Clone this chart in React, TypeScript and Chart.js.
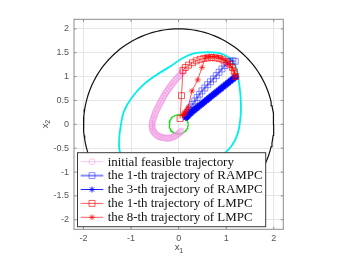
import React, { useEffect, useRef } from "react";
import { Chart, registerables } from "chart.js";

Chart.register(...registerables);

// ---------- data ----------
const AXIS_MIN = -2.2;
const AXIS_MAX = 2.2;
const X_TICKS = [-2, -1, 0, 1, 2];
const X_TICK_LABELS = ["-2", "-1", "0", "1", "2"];
const Y_TICKS = [-2, -1.5, -1, -0.5, 0, 0.5, 1, 1.5, 2];
const Y_TICK_LABELS = ["-2", "-1.5", "-1", "-0.5", "0", "0.5", "1", "1.5", "2"];

const CONSTRAINT_RADIUS = 2;
const TERMINAL_RADIUS = 0.2;
const CIRCLE_SEGMENTS = 160;

const INVARIANT_X = [0.62, 0.86, 1.07, 1.2, 1.26, 1.3, 1.31, 1.29, 1.24, 1.13, 0.98, 0.75, 0.45, 0.1, -0.3, -0.7, -1.05, -1.23, -1.25, -1.22, -1.15, -0.99, -0.74, -0.46, -0.18, 0.09, 0.34, 0.62];
const INVARIANT_Y = [1.51, 1.49, 1.39, 1.21, 0.93, 0.6, 0.3, 0.05, -0.2, -0.43, -0.6, -0.85, -1.05, -1.15, -1.15, -1.05, -0.85, -0.6, -0.32, -0.05, 0.27, 0.55, 0.83, 1.04, 1.21, 1.39, 1.49, 1.51];

const INIT_X = [0.1, 0.08, 0.06, 0.04, 0.02, 0.0, -0.02, -0.04, -0.06, -0.08, -0.1, -0.12, -0.14, -0.16, -0.18, -0.2, -0.21, -0.23, -0.25, -0.27, -0.28, -0.3, -0.31, -0.33, -0.34, -0.36, -0.37, -0.39, -0.4, -0.42, -0.43, -0.45, -0.46, -0.48, -0.49, -0.5, -0.51, -0.52, -0.53, -0.54, -0.55, -0.555, -0.56, -0.56, -0.56, -0.555, -0.55, -0.54, -0.53, -0.515, -0.5, -0.48, -0.46, -0.44, -0.42, -0.4, -0.38, -0.355, -0.33, -0.305, -0.28, -0.255, -0.23, -0.205, -0.18, -0.155, -0.13, -0.11, -0.09, -0.07, -0.05, -0.03, -0.01, 0.01, 0.03, 0.045, 0.06];
const INIT_Y = [1.12, 1.1, 1.07, 1.05, 1.02, 1.0, 0.98, 0.96, 0.94, 0.91, 0.89, 0.86, 0.84, 0.81, 0.79, 0.76, 0.74, 0.71, 0.69, 0.66, 0.64, 0.61, 0.59, 0.56, 0.53, 0.5, 0.48, 0.45, 0.42, 0.39, 0.36, 0.33, 0.3, 0.27, 0.24, 0.21, 0.18, 0.15, 0.12, 0.09, 0.06, 0.03, 0.0, -0.03, -0.05, -0.08, -0.1, -0.13, -0.15, -0.17, -0.19, -0.21, -0.23, -0.24, -0.25, -0.26, -0.27, -0.275, -0.28, -0.285, -0.29, -0.29, -0.29, -0.29, -0.29, -0.28, -0.27, -0.26, -0.25, -0.24, -0.23, -0.215, -0.2, -0.185, -0.17, -0.155, -0.14];

const RAMPC1_X = [1.19, 1.14, 1.08, 1.03, 0.97, 0.91, 0.85, 0.79, 0.73, 0.67, 0.61, 0.55, 0.49, 0.44, 0.39, 0.34, 0.3, 0.26, 0.22, 0.19, 0.17, 0.15];
const RAMPC1_Y = [1.32, 1.33, 1.32, 1.29, 1.23, 1.16, 1.09, 1.02, 0.95, 0.89, 0.83, 0.76, 0.7, 0.63, 0.56, 0.49, 0.42, 0.36, 0.3, 0.25, 0.21, 0.18];

const RAMPC3_X = [1.2, 1.18, 1.15, 1.13, 1.1, 1.08, 1.05, 1.03, 1.0, 0.98, 0.95, 0.93, 0.9, 0.88, 0.85, 0.83, 0.8, 0.78, 0.75, 0.73, 0.7, 0.68, 0.65, 0.63, 0.6, 0.58, 0.55, 0.53, 0.5, 0.48, 0.45, 0.43, 0.4, 0.38, 0.36, 0.34, 0.32, 0.3, 0.28, 0.26, 0.24, 0.22, 0.2, 0.19, 0.18, 0.17, 0.16, 0.15];
const RAMPC3_Y = [1.0, 0.98, 0.96, 0.94, 0.92, 0.9, 0.88, 0.86, 0.84, 0.82, 0.8, 0.78, 0.76, 0.74, 0.72, 0.7, 0.68, 0.66, 0.64, 0.62, 0.6, 0.58, 0.56, 0.54, 0.52, 0.5, 0.48, 0.46, 0.44, 0.42, 0.4, 0.38, 0.36, 0.34, 0.33, 0.31, 0.29, 0.28, 0.26, 0.24, 0.23, 0.21, 0.19, 0.18, 0.17, 0.16, 0.15, 0.14];

const LMPC1_X = [1.2, 1.17, 1.13, 1.07, 1.0, 0.93, 0.85, 0.77, 0.69, 0.61, 0.53, 0.45, 0.37, 0.29, 0.21, 0.14, 0.09, 0.06, 0.03];
const LMPC1_Y = [1.0, 1.1, 1.19, 1.26, 1.31, 1.35, 1.38, 1.39, 1.4, 1.39, 1.38, 1.36, 1.33, 1.29, 1.24, 1.19, 1.13, 0.6, 0.12];

const LMPC8_X = [1.2, 1.17, 1.12, 1.06, 0.99, 0.91, 0.83, 0.74, 0.65, 0.57, 0.49, 0.4, 0.28, 0.2, 0.17, 0.14, 0.12, 0.11, 0.1];
const LMPC8_Y = [1.0, 1.1, 1.19, 1.27, 1.33, 1.38, 1.41, 1.42, 1.42, 1.41, 1.19, 0.93, 0.7, 0.36, 0.3, 0.26, 0.23, 0.21, 0.19];

const LEGEND_LABELS = [
  "initial feasible trajectory",
  "the 1-th trajectory of RAMPC",
  "the 3-th trajectory of RAMPC",
  "the 1-th trajectory of LMPC",
  "the 8-th trajectory of LMPC",
];

// ---------- styles ----------
const PINK = "rgba(240,150,225,0.55)";
const BLUE_LIGHT = "rgba(0,0,255,0.45)";
const BLUE = "rgba(0,0,255,0.85)";
const RED = "rgba(255,0,0,0.65)";
const CYAN = "rgb(0,238,238)";
const GREEN = "rgb(20,220,20)";
const SERIF = '"Liberation Serif", "Times New Roman", Times, serif';
const SANS = '"Liberation Sans", Arial, Helvetica, sans-serif';

const zip = (xs: number[], ys: number[]) => xs.map((x, i) => ({ x, y: ys[i] }));
const circle = (r: number) => {
  const pts: { x: number; y: number }[] = [];
  for (let i = 0; i <= CIRCLE_SEGMENTS; i++) {
    const a = (i / CIRCLE_SEGMENTS) * Math.PI * 2;
    pts.push({ x: r * Math.cos(a), y: r * Math.sin(a) });
  }
  return pts;
};

const LEGEND_STYLES = [
  { color: PINK, lw: 1, marker: "circle", r: 3 },
  { color: BLUE_LIGHT, lw: 2, marker: "rect", r: 4.2 },
  { color: BLUE, lw: 1, marker: "star", r: 3 },
  { color: RED, lw: 1, marker: "rect", r: 4.2 },
  { color: RED, lw: 1, marker: "star", r: 3 },
];

function drawMarker(ctx: CanvasRenderingContext2D, kind: string, x: number, y: number, r: number) {
  ctx.beginPath();
  if (kind === "circle") {
    ctx.arc(x, y, r, 0, Math.PI * 2);
  } else if (kind === "rect") {
    const s = Math.SQRT1_2 * r;
    ctx.rect(x - s, y - s, 2 * s, 2 * s);
  } else {
    ctx.moveTo(x - r, y); ctx.lineTo(x + r, y);
    ctx.moveTo(x, y - r); ctx.lineTo(x, y + r);
    const d = r * Math.SQRT1_2;
    ctx.moveTo(x - d, y - d); ctx.lineTo(x + d, y + d);
    ctx.moveTo(x - d, y + d); ctx.lineTo(x + d, y - d);
  }
  ctx.stroke();
}

const framePlugin = {
  id: "frame",
  afterDatasetsDraw(chart: any) {
    const { ctx, chartArea: a, scales } = chart;
    ctx.save();
    ctx.strokeStyle = "#8c8c8c";
    ctx.lineWidth = 1;
    ctx.strokeRect(a.left, a.top, a.right - a.left, a.bottom - a.top);
    ctx.beginPath();
    X_TICKS.forEach((v) => {
      const px = scales.x.getPixelForValue(v);
      ctx.moveTo(px, a.bottom); ctx.lineTo(px, a.bottom - 2.5);
      ctx.moveTo(px, a.top); ctx.lineTo(px, a.top + 2.5);
    });
    Y_TICKS.forEach((v) => {
      const py = scales.y.getPixelForValue(v);
      ctx.moveTo(a.left, py); ctx.lineTo(a.left + 2.5, py);
      ctx.moveTo(a.right, py); ctx.lineTo(a.right - 2.5, py);
    });
    ctx.stroke();

    ctx.fillStyle = "#444";
    ctx.textAlign = "center";
    ctx.textBaseline = "middle";
    const cx = (a.left + a.right) / 2;
    ctx.font = "9.5px " + SANS;
    ctx.fillText("x", cx - 1.5, 247.5);
    ctx.font = "7px " + SANS;
    ctx.fillText("1", cx + 2.5, 251);
    ctx.save();
    ctx.translate(46, (a.top + a.bottom) / 2);
    ctx.rotate(-Math.PI / 2);
    ctx.font = "9.5px " + SANS;
    ctx.fillText("x", -1.5, -1);
    ctx.font = "7px " + SANS;
    ctx.fillText("2", 2.5, 2.5);
    ctx.restore();
    ctx.restore();
  },
};

const LEGEND_TEXT_WIDTH = 155; // width of the longest legend entry in the reference

const legendPlugin = {
  id: "customLegend",
  afterDraw(chart: any) {
    const ctx: CanvasRenderingContext2D = chart.ctx;
    const left = 77.5, top = 152.7, right = 265.7, bottom = 226.7;
    ctx.save();
    ctx.fillStyle = "#fff";
    ctx.fillRect(left, top, right - left, bottom - top);
    ctx.strokeStyle = "#3a3a3a";
    ctx.lineWidth = 1;
    ctx.strokeRect(left, top, right - left, bottom - top);
    const rowH = 13.9;
    const y0 = 161.7;
    ctx.font = "12px " + SERIF;
    let maxW = 0;
    LEGEND_LABELS.forEach((l) => { maxW = Math.max(maxW, ctx.measureText(l).width); });
    const size = Math.min(13.5, (12 * LEGEND_TEXT_WIDTH) / (maxW || 1));
    ctx.font = size.toFixed(2) + "px " + SERIF;
    ctx.textAlign = "left";
    ctx.textBaseline = "middle";
    LEGEND_LABELS.forEach((label, i) => {
      const y = y0 + i * rowH;
      const st = LEGEND_STYLES[i];
      ctx.strokeStyle = st.color;
      ctx.lineWidth = st.lw;
      ctx.beginPath();
      ctx.moveTo(80.7, y); ctx.lineTo(103.3, y);
      ctx.stroke();
      ctx.lineWidth = 1;
      drawMarker(ctx, st.marker, 92, y, st.r);
      ctx.fillStyle = "#111";
      ctx.fillText(label, 107.7, y + 0.5);
    });
    ctx.restore();
  },
};

export default function App() {
  const ref = useRef<HTMLCanvasElement | null>(null);

  useEffect(() => {
    if (!ref.current) return;
    const common = { showLine: true, tension: 0, pointBackgroundColor: "rgba(0,0,0,0)", backgroundColor: "rgba(0,0,0,0)" };
    const chart = new Chart(ref.current, {
      type: "scatter",
      data: {
        datasets: [
          { ...common, label: "constraint", data: circle(CONSTRAINT_RADIUS), borderColor: "#111", borderWidth: 1.2, pointRadius: 0, order: 7 },
          { ...common, label: "invariant", data: zip(INVARIANT_X, INVARIANT_Y), borderColor: CYAN, borderWidth: 1.8, pointRadius: 0, tension: 0.4, order: 6 },
          { ...common, label: "terminal", data: circle(TERMINAL_RADIUS), borderColor: GREEN, borderWidth: 1.2, pointRadius: 0, order: 5 },
          { ...common, label: LEGEND_LABELS[0], data: zip(INIT_X, INIT_Y), borderColor: PINK, pointBorderColor: PINK, borderWidth: 1, pointStyle: "circle", pointRadius: 3, pointBorderWidth: 1, order: 4 },
          { ...common, label: LEGEND_LABELS[1], data: zip(RAMPC1_X, RAMPC1_Y), borderColor: BLUE_LIGHT, pointBorderColor: BLUE_LIGHT, borderWidth: 2, pointStyle: "rect", pointRadius: 4.2, pointBorderWidth: 1, order: 3 },
          { ...common, label: LEGEND_LABELS[2], data: zip(RAMPC3_X, RAMPC3_Y), borderColor: BLUE, pointBorderColor: BLUE, borderWidth: 1.5, pointStyle: "star", pointRadius: 3.5, pointBorderWidth: 1.2, order: 2 },
          { ...common, label: LEGEND_LABELS[3], data: zip(LMPC1_X, LMPC1_Y), borderColor: RED, pointBorderColor: RED, borderWidth: 1, pointStyle: "rect", pointRadius: 4.2, pointBorderWidth: 1, order: 1 },
          { ...common, label: LEGEND_LABELS[4], data: zip(LMPC8_X, LMPC8_Y), borderColor: RED, pointBorderColor: RED, borderWidth: 1, pointStyle: "star", pointRadius: 3, pointBorderWidth: 1, order: 0 },
        ],
      },
      options: {
        animation: false,
        responsive: false,
        devicePixelRatio: 1,
        events: [],
        layout: { padding: { top: 19.3, right: 62.7, left: 0, bottom: 0 } },
        plugins: { legend: { display: false }, tooltip: { enabled: false } },
        scales: {
          x: {
            type: "linear",
            min: AXIS_MIN,
            max: AXIS_MAX,
            afterBuildTicks: (s: any) => { s.ticks = X_TICKS.map((v) => ({ value: v })); },
            afterFit: (s: any) => { s.height = 30.7; },
            grid: { color: "#e6e6e6", drawTicks: false },
            border: { display: false },
            ticks: {
              autoSkip: false, maxRotation: 0, padding: 4, color: "#555",
              font: { family: SANS, size: 9 },
              callback: (_v: any, i: number) => X_TICK_LABELS[i],
            },
          },
          y: {
            type: "linear",
            min: AXIS_MIN,
            max: AXIS_MAX,
            afterBuildTicks: (s: any) => { s.ticks = Y_TICKS.map((v) => ({ value: v })); },
            afterFit: (s: any) => { s.width = 74; },
            grid: { color: "#e6e6e6", drawTicks: false },
            border: { display: false },
            ticks: {
              autoSkip: false, padding: 5, color: "#555",
              font: { family: SANS, size: 9 },
              callback: (_v: any, i: number) => Y_TICK_LABELS[i],
            },
          },
        },
      } as any,
      plugins: [framePlugin, legendPlugin],
    });
    let alive = true;
    if ((document as any).fonts && (document as any).fonts.load) {
      Promise.all([
        (document as any).fonts.load("12px " + SERIF),
        (document as any).fonts.load("9px " + SANS),
      ]).then(() => { if (alive) chart.update(); }).catch(() => {});
    }
    return () => { alive = false; chart.destroy(); };
  }, []);

  return (
    <div style={{ position: "fixed", left: 0, top: 0, width: 346, height: 260, background: "#fff" }}>
      <canvas ref={ref} width={346} height={260} style={{ display: "block", width: 346, height: 260 }} />
    </div>
  );
}
